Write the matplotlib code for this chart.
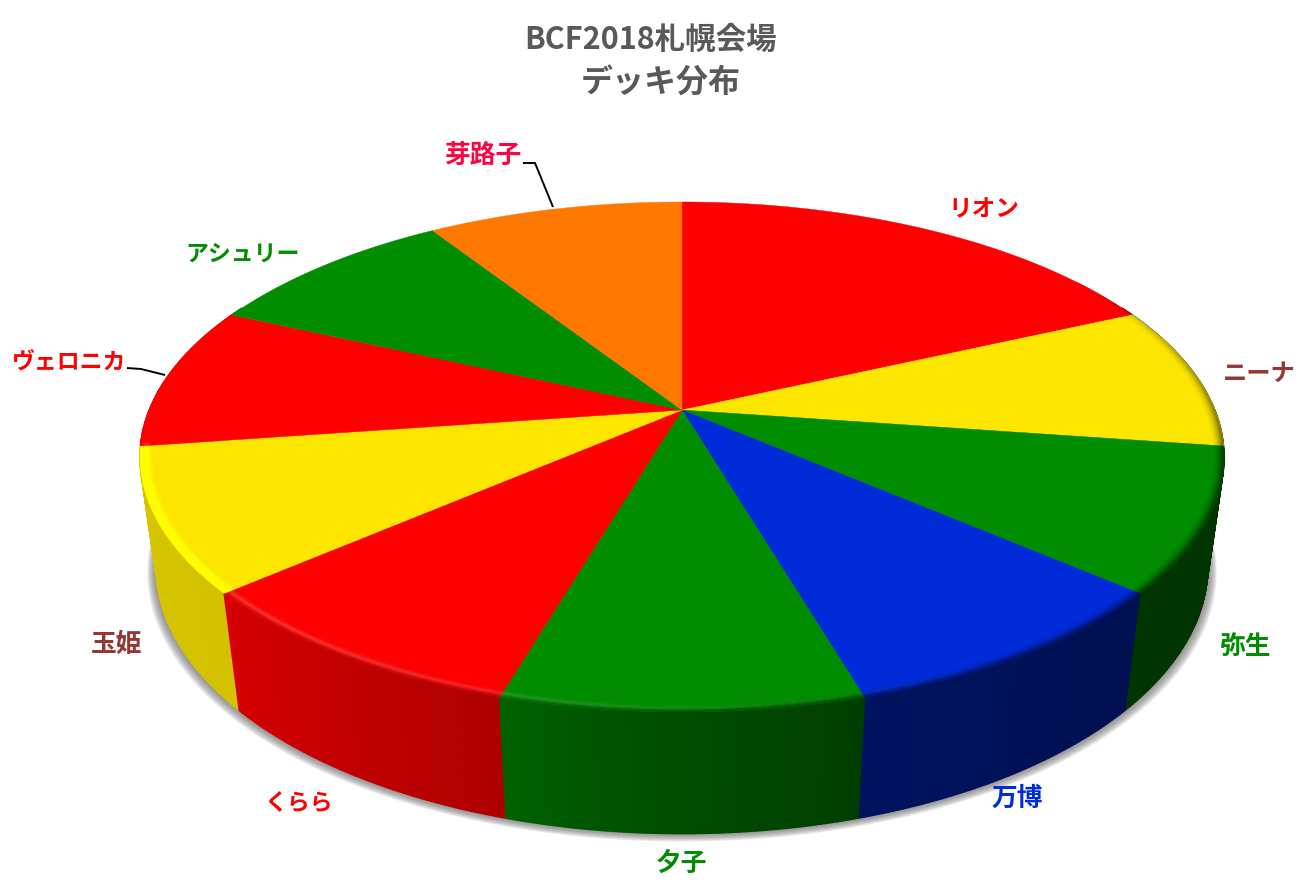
import numpy as np
import matplotlib
matplotlib.use("Agg")
import matplotlib.pyplot as plt
from matplotlib.collections import PolyCollection
from matplotlib.colors import to_rgb

plt.rcParams['font.family'] = ['Noto Sans CJK JP', 'DejaVu Sans']

# ---- data (clockwise from 12 o'clock) ----
names = ["リオン", "ニーナ", "弥生", "万博", "夕子", "くらら", "玉姫", "ヴェロニカ", "アシュリー", "芽路子"]
counts = [2, 1, 1, 1, 1, 1, 1, 1, 1, 1]
slice_colors = ["#FF0000", "#FCE600", "#008E00", "#002BD9", "#008E00",
                "#FF0000", "#FCE600", "#FF0000", "#008E00", "#FF7800"]
label_colors = ["#FF0000", "#953735", "#008E00", "#002BD9", "#008E00",
                "#FF0000", "#953735", "#FF0000", "#008E00", "#FF0040"]
title_lines = ["BCF2018札幌会場", "デッキ分布"]

# ---- style / layout ----
label_pos = [(984, 209), (1259, 374), (1245, 646), (1017, 798), (681, 863),
             (299, 803), (117, 645), (69, 362), (243, 254), (484, 155)]
label_size = [17, 17.5, 18.5, 18.5, 18.5, 16.5, 18.5, 16.5, 16.5, 18.5]
title_pos = [(651, 40), (661, 84)]
title_size = [22, 23]
leaders = {7: [(127, 368), (141, 369), (165, 375)],
           9: [(523, 163), (535, 163), (553, 207)]}
CX, CY = 682.0, 410.0
A, B, K, M, C = 246.3, 532.7, 0.184, 0.030, 112.0


def project(r, th, z=0.0):
    """Perspective view of a disc point: r radius, th clockwise from top (rad), z depth 0..1."""
    u, v = r * np.sin(th), r * np.cos(th)
    w = 1 + K * v + M * z
    return CX + B * u / w, CY + (-A * v + C * z) / w


def side_factor(deg):
    d = np.mod(deg, 360)
    return np.interp(d, [60, 98, 131, 164, 180, 196, 229, 262, 300],
                     [.36, .36, .37, .44, .54, .68, .84, .86, .88])


fig = plt.figure(figsize=(13.02, 8.83), dpi=100, facecolor="white")
ax = fig.add_axes([0, 0, 1, 1])
ax.set_xlim(0, 1302)
ax.set_ylim(883, 0)
ax.axis("off")

edges = np.cumsum([0] + counts) / sum(counts) * 2 * np.pi

# soft shadow beneath the body
t_all = np.radians(np.linspace(0, 360, 721))
bx, by = project(1.0, t_all, 1.0)
for d in np.arange(9, 0, -1.0):
    sx = CX + (bx - CX) * (1 + d / 520)
    sy = by + d * 0.55
    sy = 455 + (sy - 455) * (1 + d / 1100)
    ax.fill(sx, sy, color="#6f6f6f", alpha=0.13, lw=0, zorder=1)

# side wall, painted back to front
quads, cols, keys = [], [], []
for i, col in enumerate(slice_colors):
    rgb = np.array(to_rgb(col))
    n = max(2, int(np.degrees(edges[i + 1] - edges[i]) / 0.5))
    th = np.linspace(edges[i], edges[i + 1], n + 1)
    for a, b in zip(th[:-1], th[1:]):
        mid = np.degrees((a + b) / 2)
        if np.cos((a + b) / 2) > 0.45:
            continue
        xa, ya = project(1.0, a, 0)
        xb, yb = project(1.0, b, 0)
        xc, yc = project(1.0, b, 1)
        xd, yd = project(1.0, a, 1)
        quads.append([(xa, ya), (xb, yb), (xc, yc), (xd, yd)])
        cols.append(rgb * side_factor(mid))
        keys.append(np.cos((a + b) / 2))
order = np.argsort(keys)[::-1]
ax.add_collection(PolyCollection([quads[j] for j in order],
                                 facecolors=[cols[j] for j in order],
                                 edgecolors=[cols[j] for j in order],
                                 linewidths=1.2, zorder=2))

# top face
for i, col in enumerate(slice_colors):
    th = np.linspace(edges[i], edges[i + 1], 160)
    x, y = project(1.0, th)
    ax.fill(np.r_[CX, x], np.r_[CY, y], color=col, lw=0.3, ec=col, zorder=3)

# bevel along the rim
bands = np.linspace(0.978, 1.0, 9)
seg, seg_c = [], []
for i, col in enumerate(slice_colors):
    rgb = np.array(to_rgb(col))
    n = max(2, int(np.degrees(edges[i + 1] - edges[i]) / 0.75))
    th = np.linspace(edges[i], edges[i + 1], n + 1)
    for r0, r1 in zip(bands[:-1], bands[1:]):
        t = ((r0 + r1) / 2 - bands[0]) / (bands[-1] - bands[0])
        for a, b in zip(th[:-1], th[1:]):
            deg = np.degrees((a + b) / 2)
            fade = np.clip((deg - 55) / 45, 0, 1) * np.clip(263 - deg, 0, 1)
            if fade <= 0:
                continue
            light = np.clip((deg - 150) / 60, 0, 1) * np.exp(-((t - 0.55) / 0.26) ** 2)
            dark = (t ** 2) * (1 - side_factor(deg)) * (1.0 if deg < 240 else 0.0)
            if col == "#FCE600" and deg > 200:
                c = rgb + (np.array([1.0, 1.0, 0.0]) - rgb) * min(1.0, 3 * t) * fade
            else:
                c = rgb * (1 - dark * fade)
                c = c + (np.array([1, 1, 1]) - c) * 0.2 * light * fade
            seg.append([project(r0, a), project(r0, b), project(r1, b), project(r1, a)])
            seg_c.append(np.clip(c, 0, 1))
ax.add_collection(PolyCollection(seg, facecolors=seg_c, edgecolors=seg_c,
                                 linewidths=0.2, zorder=4))

# labels and leader lines
for i, name in enumerate(names):
    ax.text(*label_pos[i], name, color=label_colors[i], fontsize=label_size[i], fontweight="bold",
            ha="center", va="center", zorder=6)
for pts in leaders.values():
    xs, ys = zip(*pts)
    ax.plot(xs, ys, color="black", lw=1.4, zorder=5, solid_capstyle="butt")

for line, pos, size in zip(title_lines, title_pos, title_size):
    ax.text(*pos, line, color="#595959", fontsize=size, fontweight="bold",
            ha="center", va="center", zorder=6)

fig.savefig("out.png", dpi=100, facecolor="white")
